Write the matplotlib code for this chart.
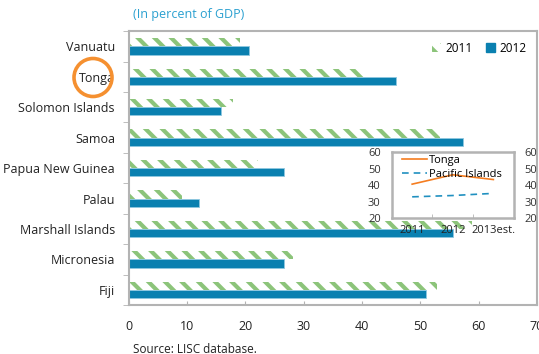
import matplotlib.pyplot as plt
from matplotlib.patches import Ellipse, Patch
import numpy as np

plt.rcParams['font.family'] = ['Open Sans', 'DejaVu Sans']
plt.rcParams['hatch.linewidth'] = 3.0

# main chart data (percent of GDP)
countries = ['Vanuatu', 'Tonga', 'Solomon Islands', 'Samoa', 'Papua New Guinea',
             'Palau', 'Marshall Islands', 'Micronesia', 'Fiji']
y2011 = [19.0, 40.5, 17.8, 53.3, 22.1, 9.1, 58.8, 28.1, 52.8]
y2012 = [20.6, 45.8, 15.8, 57.3, 26.6, 12.0, 55.7, 26.6, 51.0]

# inset data
years = ['2011', '2012', '2013est.']
tonga = [40.6, 46.3, 43.4]
pacific = [32.9, 33.7, 35.0]

green = '#8cc47a'
blue = '#0a80b0'
grey = '#b3b3b3'

fig = plt.figure(figsize=(5.39, 3.54), dpi=100)
ax = fig.add_axes([0.239, 0.138, 0.757, 0.774])

pos = np.arange(len(countries))
h = 0.27
ax.barh(pos - h / 2, y2011, height=h, color='white', edgecolor=green,
        hatch='\\\\', linewidth=0)
ax.barh(pos + h / 2, y2012, height=h, color=blue, edgecolor='#8fc8e0', linewidth=0.6)

ax.set_ylim(len(countries) - 0.5, -0.5)
ax.set_xlim(0, 70)
ax.set_yticks(pos)
ax.set_yticklabels(countries, fontsize=9, color='#222222')
ax.set_yticks(np.arange(-0.5, len(countries), 1), minor=True)
ax.tick_params(axis='y', which='major', length=0, pad=10)
ax.tick_params(axis='y', which='minor', length=4, color=grey, direction='out')
ax.set_xticks(range(0, 71, 10))
ax.tick_params(axis='x', direction='in', length=3, color=grey, pad=11,
               labelsize=9, labelcolor='#222222')
for s in ax.spines.values():
    s.set_color(grey)
    s.set_linewidth(1.5)

handles = [Patch(facecolor='white', edgecolor=green, hatch='\\\\', linewidth=0),
           Patch(facecolor=blue, edgecolor=blue)]
ax.legend(handles, ['2011', '2012'], loc='upper right', ncol=2, frameon=False,
          fontsize=8.5, handlelength=0.8, handleheight=0.8, handletextpad=0.35,
          columnspacing=1.1, bbox_to_anchor=(1.0, 1.0))

# inset
ins = fig.add_axes([0.727, 0.384, 0.226, 0.186])
x = np.arange(len(years))
ins.plot(x, tonga, color='#f57d20', lw=1.2, label='Tonga')
ins.plot(x, pacific, color='#2090c0', lw=1.2, ls=(0, (4, 3)), label='Pacific Islands')
ins.set_xlim(-0.5, 2.5)
ins.set_ylim(20, 60)
ins.set_yticks(range(20, 61, 10))
ins.set_xticks(x)
ins.set_xticklabels(years)
ins.set_xticks([0.5, 1.5], minor=True)
ins.tick_params(axis='x', which='major', length=0, pad=5, labelsize=8, labelcolor='#222222')
ins.tick_params(axis='x', which='minor', length=3, direction='in', color=grey)
ins.tick_params(axis='y', length=0, pad=8, labelsize=8, labelcolor='#333333',
                labelright=True)
for s in ins.spines.values():
    s.set_color(grey)
    s.set_linewidth(1.8)
ins.legend(loc='upper left', frameon=False, fontsize=8, handlelength=2.2,
           handletextpad=0.2, labelspacing=0.3, borderaxespad=0.0,
           bbox_to_anchor=(0.05, 1.03))

fig.text(0.247, 0.96, '(In percent of GDP)', color='#2aa0d0', fontsize=9, va='center')
fig.text(0.247, 0.014, 'Source: LISC database.', color='#222222', fontsize=8.5, va='center')

fig.add_artist(Ellipse((93 / 539, 1 - 77.5 / 354), 38 / 539, 38 / 354,
                       transform=fig.transFigure, fill=False, edgecolor='#f59030', lw=2.6))

fig.savefig('out.png', dpi=100)
